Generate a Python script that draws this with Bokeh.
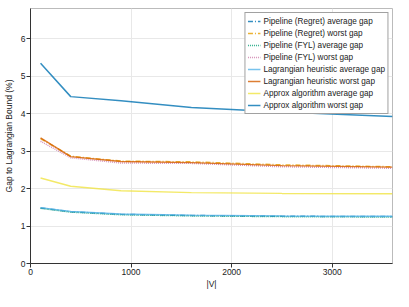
from bokeh.plotting import figure
from bokeh.models import Range1d, FixedTicker, Legend, LegendItem
from bokeh.embed import file_html
from bokeh.resources import INLINE

V = [100, 400, 900, 1600, 2500, 3600]
reg_avg = [1.48, 1.38, 1.31, 1.28, 1.26, 1.25]
reg_worst = [3.33, 2.86, 2.73, 2.71, 2.63, 2.58]
fyl_avg = [1.47, 1.37, 1.30, 1.27, 1.25, 1.24]
fyl_worst = [3.26, 2.82, 2.68, 2.67, 2.58, 2.54]
lag_avg = [1.49, 1.39, 1.32, 1.29, 1.27, 1.26]
lag_worst = [3.35, 2.85, 2.72, 2.69, 2.61, 2.57]
apx_avg = [2.28, 2.06, 1.94, 1.89, 1.87, 1.86]
apx_worst = [5.34, 4.45, 4.34, 4.16, 4.04, 3.92]

labels = [
    "Pipeline (Regret) average gap",
    "Pipeline (Regret) worst gap",
    "Pipeline (FYL) average gap",
    "Pipeline (FYL) worst gap",
    "Lagrangian heuristic average gap",
    "Lagrangian heuristic worst gap",
    "Approx algorithm average gap",
    "Approx algorithm worst gap",
]
series = [reg_avg, reg_worst, fyl_avg, fyl_worst, lag_avg, lag_worst, apx_avg, apx_worst]
colors = ["#0072B2", "#E69F00", "#009E73", "#CC79A7", "#56B4E9", "#D55E00", "#F0E442", "#0072B2"]
dashes = ["5 2 1 2", "5 2 1 2", "1 1", "1 1", "solid", "solid", "solid", "solid"]

FONT = "Liberation Sans"

p = figure(width=393, height=291, output_backend="svg", toolbar_location=None,
           x_range=Range1d(0, 3600), y_range=Range1d(0, 6.8),
           min_border_left=30, min_border_right=1, min_border_top=8, min_border_bottom=20)

p.outline_line_color = "#bbbbbb"
p.outline_line_width = 1
p.background_fill_color = "white"
p.border_fill_color = "white"

for ax in (p.xaxis[0], p.yaxis[0]):
    ax.axis_line_color = "#333333"
    ax.axis_line_width = 1
    ax.major_tick_line_color = "#333333"
    ax.major_tick_out = 4
    ax.major_tick_in = 0
    ax.minor_tick_line_color = None
    ax.major_label_text_font = FONT
    ax.major_label_text_font_size = "8.5px"
    ax.major_label_text_color = "#222222"
    ax.axis_label_text_font = FONT
    ax.axis_label_text_font_size = "8.5px"
    ax.axis_label_text_font_style = "normal"
    ax.axis_label_text_color = "#222222"
    ax.major_label_standoff = 1
    ax.axis_label_standoff = 1

p.yaxis[0].axis_label_standoff = 4
p.xaxis.ticker = FixedTicker(ticks=[0, 1000, 2000, 3000])
p.yaxis.ticker = FixedTicker(ticks=[0, 1, 2, 3, 4, 5, 6])
p.xaxis.axis_label = "|V|"
p.yaxis.axis_label = "Gap to Lagrangian Bound (%)"

p.xgrid.grid_line_color = "#e8e8e8"
p.ygrid.grid_line_color = "#e8e8e8"

items = []
for lab, ys, c, d in zip(labels, series, colors, dashes):
    r = p.line(V, ys, line_color=c, line_width=1.5, line_dash=d, line_alpha=0.8)
    items.append(LegendItem(label=lab, renderers=[r]))

legend = Legend(items=items, location="top_right")
legend.label_text_font = FONT
legend.label_text_font_size = "8.2px"
legend.label_text_color = "#222222"
legend.border_line_color = "#444444"
legend.border_line_width = 1
legend.background_fill_color = "white"
legend.background_fill_alpha = 1
legend.glyph_width = 13
legend.glyph_height = 12
legend.label_height = 12
legend.label_standoff = 3
legend.spacing = 0
legend.padding = 2
legend.margin = 4
p.add_layout(legend)

open("out.html", "w").write(file_html(p, INLINE))
